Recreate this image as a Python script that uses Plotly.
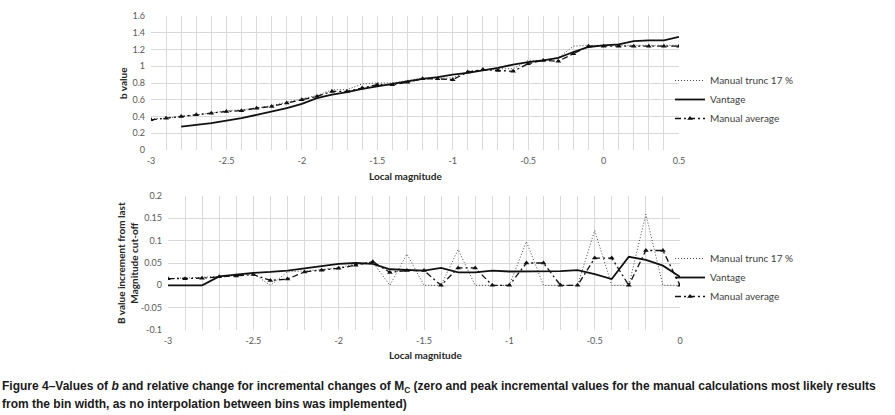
import plotly.graph_objects as go

# ---------------- data ----------------
mag_top = [round(-3 + 0.1 * i, 1) for i in range(36)]          # -3.0 .. 0.5
trunc_top = [0.37, 0.38, 0.40, 0.42, 0.44, 0.47, 0.48, 0.50, 0.53, 0.57,
             0.61, 0.65, 0.72, 0.72, 0.79, 0.80, 0.80, 0.83, 0.86, 0.86,
             0.86, 0.94, 0.95, 0.97, 0.97, 1.07, 1.07, 1.10, 1.24, 1.25,
             1.25, 1.25, 1.25, 1.25, 1.25, 1.25]
avg_top = [0.36, 0.38, 0.40, 0.42, 0.44, 0.46, 0.47, 0.50, 0.52, 0.56,
           0.60, 0.64, 0.70, 0.70, 0.74, 0.78, 0.78, 0.81, 0.85, 0.85,
           0.84, 0.93, 0.96, 0.95, 0.94, 1.03, 1.07, 1.06, 1.15, 1.24,
           1.24, 1.24, 1.24, 1.24, 1.24, 1.24]
mag_vantage_top = [round(-2.8 + 0.1 * i, 1) for i in range(34)]  # -2.8 .. 0.5
vantage_top = [0.28, 0.30, 0.32, 0.35, 0.38, 0.42, 0.46, 0.50, 0.55, 0.62,
               0.66, 0.69, 0.73, 0.76, 0.79, 0.82, 0.85, 0.87, 0.90, 0.92,
               0.95, 0.98, 1.02, 1.05, 1.07, 1.10, 1.17, 1.23, 1.25, 1.26,
               1.30, 1.31, 1.31, 1.35]

mag_bot = [round(-3 + 0.1 * i, 1) for i in range(31)]           # -3.0 .. 0.0
trunc_bot = [0.015, 0.016, 0.018, 0.020, 0.022, 0.026, 0.0, 0.030, 0.033, 0.035,
             0.040, 0.047, 0.052, 0.0, 0.070, 0.0, 0.0, 0.080, 0.0, 0.0,
             0.0, 0.098, 0.0, 0.0, 0.0, 0.123, 0.0, 0.0, 0.159, 0.0, 0.0]
vantage_bot = [0.0, 0.0, 0.0, 0.020, 0.024, 0.028, 0.030, 0.033, 0.038, 0.043,
               0.048, 0.050, 0.048, 0.036, 0.034, 0.033, 0.039, 0.029, 0.029, 0.033,
               0.031, 0.031, 0.031, 0.032, 0.034, 0.025, 0.014, 0.064, 0.057, 0.044,
               0.019]
avg_bot = [0.015, 0.015, 0.016, 0.019, 0.021, 0.024, 0.011, 0.014, 0.030, 0.034,
           0.038, 0.045, 0.053, 0.029, 0.033, 0.033, 0.0, 0.039, 0.039, 0.0,
           0.0, 0.050, 0.050, 0.0, 0.0, 0.061, 0.061, 0.0, 0.078, 0.078, 0.0]

top_xticks = [-3, -2.5, -2, -1.5, -1, -0.5, 0, 0.5]
top_xtext = ["-3", "-2.5", "-2", "-1.5", "-1", "-0.5", "0", "0.5"]
top_yticks = [0, 0.2, 0.4, 0.6, 0.8, 1, 1.2, 1.4, 1.6]
top_ytext = ["0", "0.2", "0.4", "0.6", "0.8", "1", "1.2", "1.4", "1.6"]
bot_xticks = [-3, -2.5, -2, -1.5, -1, -0.5, 0]
bot_xtext = ["-3", "-2.5", "-2", "-1.5", "-1", "-0.5", "0"]
bot_yticks = [-0.1, -0.05, 0, 0.05, 0.1, 0.15, 0.2]
bot_ytext = ["-0.1", "-0.05", "0", "0.05", "0.1", "0.15", "0.2"]

names = ["Manual trunc 17 %", "Vantage", "Manual average"]

# ---------------- figure ----------------
W, H = 895, 415
def px(x): return x / W
def py(y): return 1 - y / H

fig = go.Figure()

dot_style = dict(color="#444444", width=1, dash="1px,2px")
van_style = dict(color="#111111", width=1.8)
avg_style = dict(color="#111111", width=1.3, dash="6px,3px,2px,3px")
avg_marker = dict(symbol="triangle-up", size=5, color="#111111")

# top chart
fig.add_trace(go.Scatter(x=mag_top, y=trunc_top, mode="lines", line=dot_style,
                         name=names[0], legend="legend", xaxis="x", yaxis="y"))
fig.add_trace(go.Scatter(x=mag_vantage_top, y=vantage_top, mode="lines", line=van_style,
                         name=names[1], legend="legend", xaxis="x", yaxis="y"))
fig.add_trace(go.Scatter(x=mag_top, y=avg_top, mode="lines+markers", line=avg_style,
                         marker=avg_marker, name=names[2], legend="legend",
                         xaxis="x", yaxis="y"))
# bottom chart
fig.add_trace(go.Scatter(x=mag_bot, y=trunc_bot, mode="lines", line=dot_style,
                         name=names[0], legend="legend2", xaxis="x2", yaxis="y2"))
fig.add_trace(go.Scatter(x=mag_bot, y=vantage_bot, mode="lines", line=van_style,
                         name=names[1], legend="legend2", xaxis="x2", yaxis="y2"))
fig.add_trace(go.Scatter(x=mag_bot, y=avg_bot, mode="lines+markers", line=avg_style,
                         marker=avg_marker, name=names[2], legend="legend2",
                         xaxis="x2", yaxis="y2"))

tick_font = dict(family="Lato, 'Open Sans', sans-serif", size=9, color="#595959")
grid = "#d9d9d9"
common_x = dict(showgrid=True, gridcolor=grid, gridwidth=1, zeroline=False,
                showline=False, ticks="", tickfont=tick_font, automargin=False,
                ticklabelstandoff=4,
                minor=dict(dtick=0.1, showgrid=True, gridcolor=grid, gridwidth=1))
common_y = dict(showgrid=True, gridcolor=grid, gridwidth=1, zeroline=False,
                showline=False, ticks="", tickfont=tick_font, automargin=False,
                ticklabelstandoff=5)

legend_font = dict(family="Lato, 'Open Sans', sans-serif", size=10, color="#404040")

fig.update_layout(
    template="none",
    width=W, height=H,
    margin=dict(l=0, r=0, t=0, b=0, autoexpand=False),
    paper_bgcolor="white", plot_bgcolor="white",
    xaxis=dict(domain=[px(151), px(679)], range=[-3, 0.5], anchor="y",
               tickvals=top_xticks, ticktext=top_xtext, **common_x),
    yaxis=dict(domain=[py(150), py(16)], range=[0, 1.6], anchor="x",
               tickvals=top_yticks, ticktext=top_ytext, **common_y),
    xaxis2=dict(domain=[px(168), px(680)], range=[-3, 0], anchor="y2",
                tickvals=bot_xticks, ticktext=bot_xtext, **common_x),
    yaxis2=dict(domain=[py(330), py(196)], range=[-0.1, 0.2], anchor="x2",
                tickvals=bot_yticks, ticktext=bot_ytext, **common_y),
    legend=dict(x=px(670), y=py(66), xanchor="left", yanchor="top",
                font=legend_font, itemwidth=30, tracegroupgap=0,
                bgcolor="rgba(0,0,0,0)"),
    legend2=dict(x=px(670), y=py(244), xanchor="left", yanchor="top",
                 font=legend_font, itemwidth=30, tracegroupgap=0,
                 bgcolor="rgba(0,0,0,0)"),
    showlegend=True,
)

title_font = dict(family="Lato, 'Open Sans', sans-serif", size=10, color="#262626")
cap_font = dict(family="'Liberation Sans Narrow', 'Arial Narrow', 'Liberation Sans', sans-serif",
                size=12, color="#1a1a1a")
annotations = [
    dict(text="<b>Local magnitude</b>", x=px(405), y=py(176), xref="paper", yref="paper",
         showarrow=False, font=title_font, xanchor="center", yanchor="middle"),
    dict(text="<b>b value</b>", x=px(123), y=py(83), xref="paper", yref="paper",
         showarrow=False, font=title_font, textangle=-90, xanchor="center", yanchor="middle"),
    dict(text="<b>Local magnitude</b>", x=px(425), y=py(355), xref="paper", yref="paper",
         showarrow=False, font=title_font, xanchor="center", yanchor="middle"),
    dict(text="<b>B value increment from last<br>Magnitude cut-off</b>", x=px(127), y=py(263),
         xref="paper", yref="paper", showarrow=False, font=title_font, textangle=-90,
         xanchor="center", yanchor="middle"),
    dict(text="<b>Figure 4\u2013Values of <i>b</i> and relative change for incremental changes of "
              "M<sub>C</sub> (zero and peak incremental values for the manual calculations most likely results</b>",
         x=0, y=py(387), xref="paper", yref="paper", showarrow=False, xanchor="left",
         yanchor="middle", font=cap_font),
    dict(text="<b>from the bin width, as no interpolation between bins was implemented)</b>",
         x=0, y=py(404), xref="paper", yref="paper", showarrow=False, xanchor="left",
         yanchor="middle", font=cap_font),
]
fig.update_layout(annotations=annotations)

fig.write_html(
    "out.html",
    config={"displayModeBar": False},
    post_script="document.body.style.margin='0';document.body.style.overflow='hidden';",
)
